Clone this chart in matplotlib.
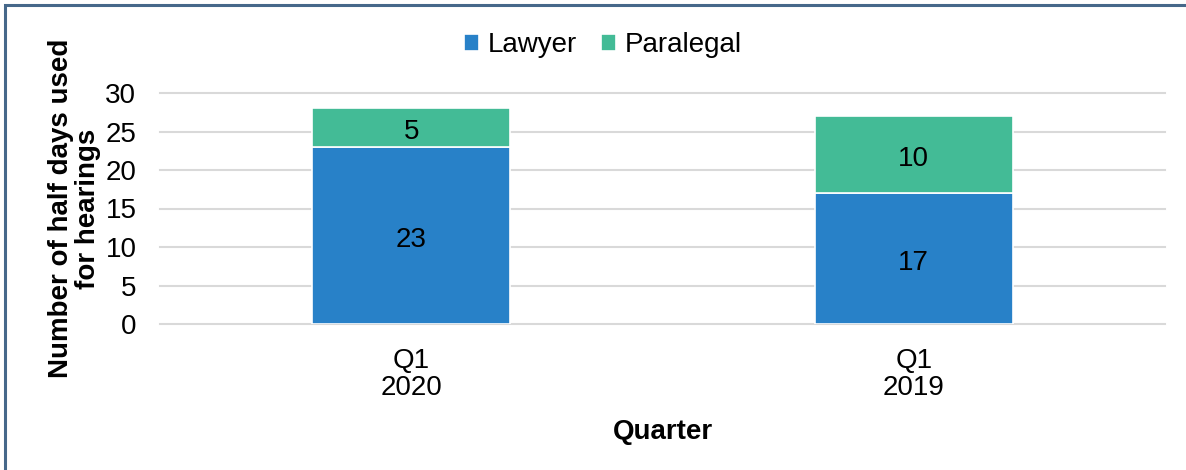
import matplotlib
matplotlib.use("Agg")
import matplotlib.pyplot as plt
from matplotlib.patches import Rectangle

categories = ["Q1\n2020", "Q1\n2019"]
lawyer = [23, 17]
paralegal = [5, 10]
yticks = [0, 5, 10, 15, 20, 25, 30]

plt.rcParams['font.family'] = ['Liberation Sans', 'DejaVu Sans']

W, H = 1186, 470
FS = 20
fig = plt.figure(figsize=(W/100, H/100), dpi=100)
ax = fig.add_axes([160/W, (H-324)/H, 1005/W, (324-93)/H])

x = list(range(len(categories)))
c_law = "#2881c8"
c_para = "#43bb96"
bw = 0.394
b1 = ax.bar(x, lawyer, width=bw, color=c_law, edgecolor="white", linewidth=1.2, label="Lawyer", zorder=3)
b2 = ax.bar(x, paralegal, width=bw, bottom=lawyer, color=c_para, edgecolor="white", linewidth=1.2, label="Paralegal", zorder=3)
for xi, l, p in zip(x, lawyer, paralegal):
    ax.annotate(str(l), (xi, l / 2), xytext=(0, -3), textcoords="offset points",
                ha="center", va="center", fontsize=FS, zorder=4)
    ax.annotate(str(p), (xi, l + p / 2), xytext=(0, -3), textcoords="offset points",
                ha="center", va="center", fontsize=FS, zorder=4)

ax.set_xlim(-0.5, 1.5)
ax.set_ylim(0, 30)
ax.set_yticks(yticks)
ax.set_xticks(x)
ax.set_xticklabels(categories, fontsize=FS, linespacing=1.05)
ax.tick_params(axis='y', length=0, labelsize=FS, pad=17)
ax.tick_params(axis='x', length=0, pad=17.5)
for s in ax.spines.values():
    s.set_visible(False)
for t in yticks:
    ax.axhline(t, color="#d9d9d9", linewidth=1.5, zorder=1, clip_on=False)

ax.set_ylabel("Number of half days used\nfor hearings", fontsize=FS, fontweight="bold", labelpad=3, linespacing=1.08)
ax.set_xlabel("Quarter", fontsize=FS, fontweight="bold", labelpad=12.5)

leg = fig.legend(handles=[b1, b2], labels=["Lawyer", "Paralegal"], loc="center", bbox_to_anchor=(603/W, (H-45)/H),
                 ncol=2, frameon=False, fontsize=FS, handlelength=0.55, handleheight=0.55, handletextpad=0.3, columnspacing=0.87)

fig.patches.append(Rectangle((4.5/W, -0.1), 1.2, (H-5)/H + 0.1, transform=fig.transFigure,
                             fill=False, edgecolor="#46688a", linewidth=2.2))

fig.savefig("out.png", dpi=100)
